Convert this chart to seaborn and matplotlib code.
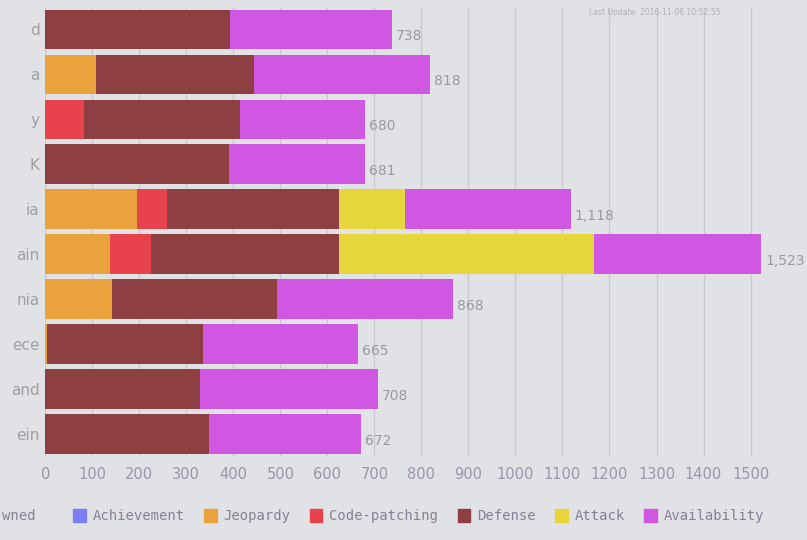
import matplotlib
matplotlib.use("Agg")
import matplotlib.pyplot as plt
import matplotlib.patches as mpatches
import numpy as np
import pandas as pd
import seaborn as sns

# team labels (cut off on the left in the photo)
teams = ["d", "a", "y", "K", "ia", "ain", "nia", "ece", "and", "ein"]
categories = ["Achievement", "Jeopardy", "Code-patching", "Defense", "Attack", "Availability"]

achievement = [0, 0, 0, 0, 0, 0, 0, 0, 0, 0]
jeopardy = [0, 108, 0, 0, 196, 137, 142, 4, 0, 0]
code_patching = [0, 0, 82, 0, 62, 88, 0, 0, 0, 0]
defense = [393, 337, 333, 391, 367, 399, 352, 332, 330, 348]
attack = [0, 0, 0, 0, 140, 544, 0, 0, 0, 0]
availability = [345, 373, 265, 290, 353, 355, 374, 329, 378, 324]

colors = {
    "Achievement": "#7c7cf2",
    "Jeopardy": "#e9a23c",
    "Code-patching": "#e8424c",
    "Defense": "#8e3f42",
    "Attack": "#e6d63c",
    "Availability": "#cf57e2",
}

df = pd.DataFrame({
    "team": teams,
    "Achievement": achievement,
    "Jeopardy": jeopardy,
    "Code-patching": code_patching,
    "Defense": defense,
    "Attack": attack,
    "Availability": availability,
})
cum = df[categories].cumsum(axis=1)
cum["team"] = teams
totals = cum["Availability"].tolist()

bg = "#e1e2e5"
fig = plt.figure(figsize=(8.07, 5.4), dpi=100, facecolor=bg)
ax = fig.add_axes([0.056, 0.155, 0.944, 0.832])
ax.set_facecolor(bg)

# stacked bars: draw cumulative totals from the largest down
for cat in categories[::-1]:
    sns.barplot(data=cum, x=cat, y="team", orient="h", color=colors[cat],
                width=0.88, saturation=1, ax=ax, zorder=3)

for i, t in enumerate(totals):
    ax.text(t + 8, i + 0.15, f"{t:,}", va="center", ha="left",
            fontsize=10, color="#9a9a9a", zorder=4)

ax.set_xlim(0, 1620)
ax.set_xticks(np.arange(0, 1600, 100))
ax.tick_params(axis="x", colors="#9c94a8", labelsize=10.5, length=0, pad=8)
ax.tick_params(axis="y", colors="#a0a0a0", labelsize=11, length=0, pad=4)
ax.grid(axis="x", color="#c9c9cf", lw=1, zorder=0)
ax.set_axisbelow(True)
for s in ax.spines.values():
    s.set_visible(False)
ax.set_xlabel("")
ax.set_ylabel("")

fig.text(0.73, 0.985, "Last Update: 2016-11-06 10:52:55", fontsize=5.5,
         color="#b0b0b8", va="top")

# first legend entry is cut off in the photo, only its tail shows
fig.text(0.003, 0.045, "wned", fontsize=10, family="DejaVu Sans Mono",
         color="#8a7e98", va="center")
handles = [mpatches.Patch(color=colors[c], label=c) for c in categories]
leg = fig.legend(handles=handles, loc="center left", bbox_to_anchor=(0.075, 0.045),
                 ncol=6, frameon=False, handlelength=0.9, handleheight=1.1,
                 handletextpad=0.5, columnspacing=1.4,
                 prop={"family": "DejaVu Sans Mono", "size": 10})
for txt in leg.get_texts():
    txt.set_color("#8a7e98")

fig.savefig("out.png", dpi=100, facecolor=bg)
